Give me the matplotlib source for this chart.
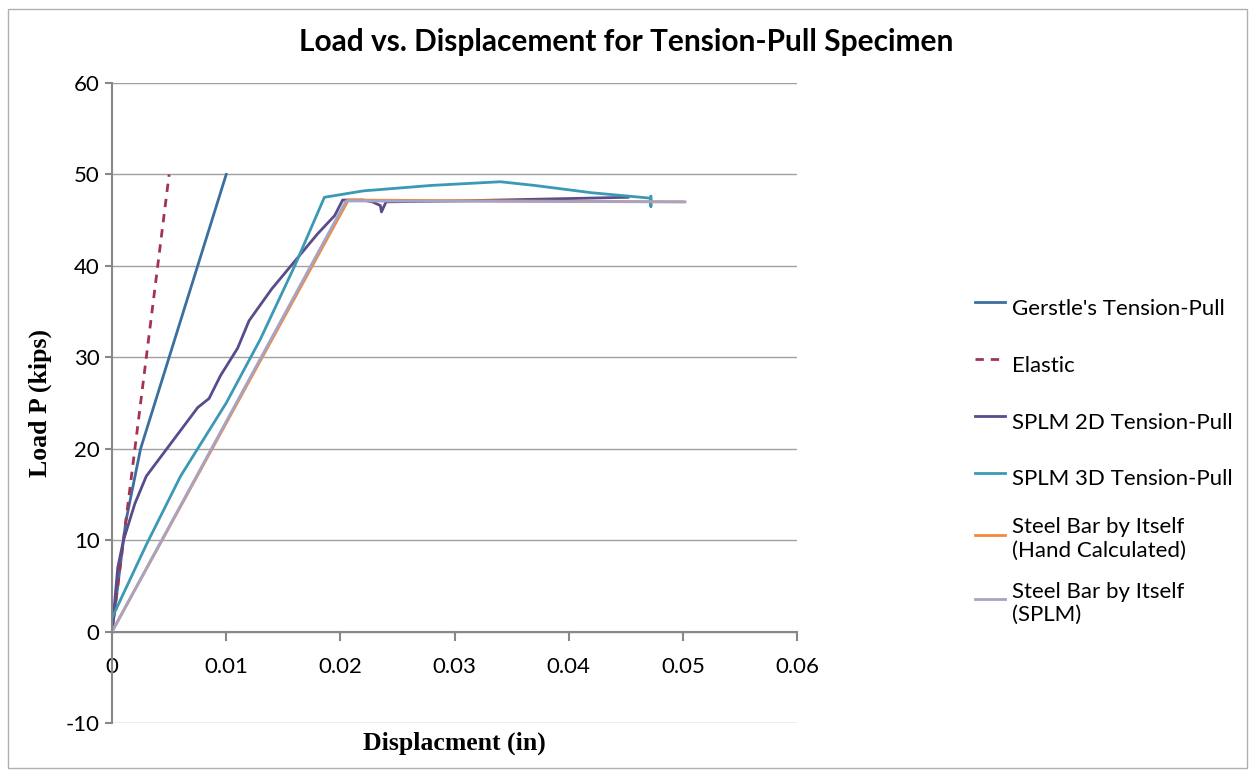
import matplotlib.pyplot as plt
from matplotlib.patches import Rectangle

# data (displacement in inches, load in kips)
gerstle_x = [0.0, 0.0012, 0.0025, 0.0100]
gerstle_y = [0.0, 12.0, 20.0, 50.0]

elastic_x = [0.0, 0.0050]
elastic_y = [0.0, 50.0]

splm2d_x = [0.0, 0.0005, 0.0010, 0.0020, 0.0030, 0.0045, 0.0060, 0.0075, 0.0085,
            0.0095, 0.0110, 0.0120, 0.0140, 0.0160, 0.0180, 0.0195, 0.0202, 0.0220,
            0.0228, 0.0235, 0.0236, 0.0240, 0.0300, 0.0452]
splm2d_y = [0.0, 7.0, 10.0, 14.0, 17.0, 19.5, 22.0, 24.5, 25.5,
            28.0, 31.0, 34.0, 37.5, 40.5, 43.5, 45.5, 47.2, 47.2,
            47.0, 46.6, 45.9, 47.0, 47.1, 47.5]

splm3d_x = [0.0, 0.0030, 0.0060, 0.0100, 0.0130, 0.0160, 0.0186, 0.0220, 0.0280,
            0.0340, 0.0370, 0.0420, 0.0472, 0.0472, 0.0472]
splm3d_y = [1.5, 9.5, 17.0, 25.0, 32.0, 40.0, 47.5, 48.2, 48.8,
            49.2, 48.8, 48.0, 47.4, 46.5, 47.6]

hand_x = [0.0, 0.0207, 0.0500]
hand_y = [0.0, 47.2, 47.0]

splm_bar_x = [0.0, 0.0205, 0.0502]
splm_bar_y = [0.0, 47.1, 47.0]

labels = ["Gerstle's Tension-Pull", "Elastic", "SPLM 2D Tension-Pull",
          "SPLM 3D Tension-Pull", "Steel Bar by Itself\n(Hand Calculated)",
          "Steel Bar by Itself\n(SPLM)"]

x_ticks = [0, 0.01, 0.02, 0.03, 0.04, 0.05, 0.06]
x_tick_labels = ["0", "0.01", "0.02", "0.03", "0.04", "0.05", "0.06"]
y_ticks = [-10, 0, 10, 20, 30, 40, 50, 60]

plt.rcParams['font.family'] = ['Lato', 'DejaVu Sans']
plt.rcParams['axes.unicode_minus'] = False

fig = plt.figure(figsize=(12.52, 7.70), dpi=100)
ax = fig.add_axes([0.0895, 0.061, 0.5471, 0.8312])

# chart area border
fig.patches.append(Rectangle((0.006, 0.003), 0.99, 0.985, transform=fig.transFigure,
                             fill=False, edgecolor='#b0b0b0', linewidth=1))

ax.plot(gerstle_x, gerstle_y, color='#3a6f9f', linewidth=2, label=labels[0])
ax.plot(elastic_x, elastic_y, color='#a3344f', linewidth=2, linestyle=(0, (3, 2.5)), label=labels[1])
ax.plot(splm2d_x, splm2d_y, color='#5a4b8c', linewidth=2, label=labels[2])
ax.plot(splm3d_x, splm3d_y, color='#3b99b5', linewidth=2, label=labels[3])
ax.plot(hand_x, hand_y, color='#f28a3c', linewidth=2, label=labels[4])
ax.plot(splm_bar_x, splm_bar_y, color='#a6a3c4', linewidth=2, label=labels[5])

ax.set_xlim(0, 0.06)
ax.set_ylim(-10, 60)
ax.set_xticks(x_ticks)
ax.set_xticklabels(x_tick_labels)
ax.set_yticks(y_ticks)

ax.grid(axis='y', color='#a0a0a0', linewidth=1)
ax.set_axisbelow(True)

for s in ['top', 'right', 'bottom']:
    ax.spines[s].set_visible(False)
ax.spines['left'].set_color('#888888')
ax.spines['left'].set_linewidth(1.5)

# x axis drawn at zero load
ax.axhline(0, color='#888888', linewidth=1.5, zorder=1)
for xt in x_ticks:
    ax.plot([xt, xt], [0, -0.9], color='#888888', linewidth=1.5, clip_on=False, zorder=1)
ax.tick_params(axis='x', length=0, pad=0, labelsize=16)
for lab in ax.get_xticklabels():
    lab.set_y(0.103)
ax.tick_params(axis='y', length=5, width=1.5, color='#888888', labelsize=16, pad=4)

fig.text(0.5, 1 - 42 / 770, "Load vs. Displacement for Tension-Pull Specimen",
         fontsize=21.5, fontweight='bold', ha='center', va='center')
ax.set_xlabel("Displacment (in)", family='Liberation Serif', fontsize=18.5,
              fontweight='bold', labelpad=6)
ax.set_ylabel("Load P (kips)", family='Liberation Serif', fontsize=18.5,
              fontweight='bold', labelpad=10)

# equal-height legend rows, like the spreadsheet legend
ax.legend(loc='center left', bbox_to_anchor=(0.763, 0.406), bbox_transform=fig.transFigure,
          frameon=False, fontsize=16, handlelength=1.35, handletextpad=0.3,
          handleheight=2.1, labelspacing=0.95)

fig.savefig('out.png', dpi=100)
